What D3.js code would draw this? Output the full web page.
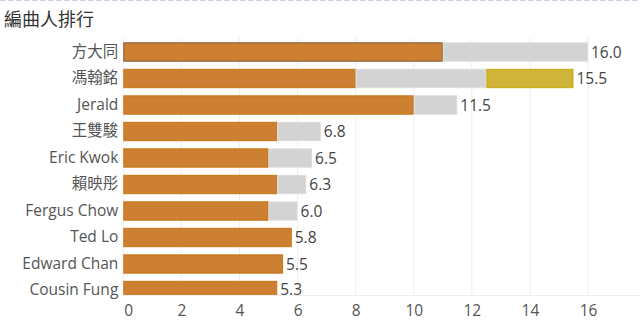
<!DOCTYPE html>
<html>
<head>
<meta charset="utf-8">
<script src="https://cdn.jsdelivr.net/npm/d3@7"></script>
<style>
  html, body { margin: 0; padding: 0; background: #fff; }
  svg { display: block; }
  text { font-family: "Open Sans", "Noto Sans CJK TC", sans-serif; }
</style>
</head>
<body>
<svg id="chart" width="640" height="323"></svg>
<script>
const title = "編曲人排行";
const categories = ["方大同","馮翰銘","Jerald","王雙駿","Eric Kwok","賴映彤","Fergus Chow","Ted Lo","Edward Chan","Cousin Fung"];
const seriesOrange = [11, 8, 10, 5.3, 5, 5.3, 5, 5.8, 5.5, 5.3];
const seriesGray   = [5, 4.5, 1.5, 1.5, 1.5, 1, 1, 0, 0, 0];
const seriesYellow = [0, 3, 0, 0, 0, 0, 0, 0, 0, 0];
const xTicks = [0, 2, 4, 6, 8, 10, 12, 14, 16];

const svg = d3.select("#chart");
const W = 640, H = 323;
const left = 123.3, plotBottom = 295;

const x = d3.scaleLinear().domain([0, 16]).range([left, 588]);
const y = d3.scaleBand().domain(categories).range([38.75, 38.75 + 26.5 * categories.length]).paddingInner(0.27).paddingOuter(0.135);

// top dashed border
svg.append("line").attr("x1", 0).attr("x2", W).attr("y1", 0.5).attr("y2", 0.5)
  .attr("stroke", "#c9d3e6").attr("stroke-width", 1.2).attr("stroke-dasharray", "6,2");

// title
svg.append("text").attr("x", 4).attr("y", 26).attr("font-size", 18).attr("fill", "#333")
  .attr("font-family", "'Noto Sans CJK TC', sans-serif").text(title);

// gridlines
svg.append("g").selectAll("line").data(xTicks).join("line")
  .attr("x1", d => x(d)).attr("x2", d => x(d)).attr("y1", 38).attr("y2", plotBottom)
  .attr("stroke", "#eeeeee").attr("stroke-width", 1);
svg.append("line").attr("x1", left).attr("x2", W).attr("y1", plotBottom + 0.5).attr("y2", plotBottom + 0.5)
  .attr("stroke", "#eeeeee");

// x axis via d3.axisBottom
const xAxis = svg.append("g").attr("transform", `translate(0,${plotBottom})`)
  .call(d3.axisBottom(x).tickValues(xTicks).tickSize(0).tickPadding(10).tickFormat(d3.format("d")));
xAxis.select(".domain").remove();
xAxis.selectAll("text").attr("font-size", 15.5).attr("fill", "#555").attr("font-family", "'Open Sans', sans-serif")
  .attr("dx", d => d === 0 ? 5 : 0);

// y axis labels
const yAxis = svg.append("g").attr("transform", `translate(${left - 5},0)`)
  .call(d3.axisLeft(y).tickSize(0).tickPadding(0));
yAxis.select(".domain").remove();
yAxis.selectAll("text").attr("font-size", 15.5).attr("fill", "#555")
  .attr("font-family", d => /[A-Za-z]/.test(d) ? "'Open Sans', sans-serif" : "'Noto Sans CJK TC', sans-serif");

// clip
svg.append("defs").append("clipPath").attr("id", "plotclip")
  .append("rect").attr("x", 0).attr("y", 0).attr("width", W).attr("height", plotBottom);

const rows = categories.map((c, i) => ({
  c, i,
  segs: [
    { v0: 0, v1: seriesOrange[i], fill: "#cd7f32", stroke: i === 0 ? "#7a5a3a" : "#c97410" },
    { v0: seriesOrange[i], v1: seriesOrange[i] + seriesGray[i], fill: "#d3d3d3", stroke: "#dcdcdc" },
    { v0: seriesOrange[i] + seriesGray[i], v1: seriesOrange[i] + seriesGray[i] + seriesYellow[i], fill: "#d0b43a", stroke: "#c9a810" }
  ].filter(s => s.v1 > s.v0),
  total: seriesOrange[i] + seriesGray[i] + seriesYellow[i]
}));

const bars = svg.append("g").attr("clip-path", "url(#plotclip)");
rows.forEach(r => {
  bars.selectAll(null).data(r.segs).join("rect")
    .attr("x", s => x(s.v0) + 0.5).attr("y", y(r.c) + 0.5)
    .attr("width", s => x(s.v1) - x(s.v0) - 1).attr("height", y.bandwidth() - 1)
    .attr("fill", s => s.fill).attr("stroke", s => s.stroke).attr("stroke-width", 1);
});

// value labels
svg.append("g").selectAll("text").data(rows).join("text")
  .attr("x", d => x(d.total) + 3).attr("y", d => Math.min(y(d.c) + y.bandwidth() / 2, 289))
  .attr("dy", "0.36em").attr("font-size", 15.5).attr("fill", "#444")
  .text(d => d3.format(".1f")(d.total));
</script>
</body>
</html>
